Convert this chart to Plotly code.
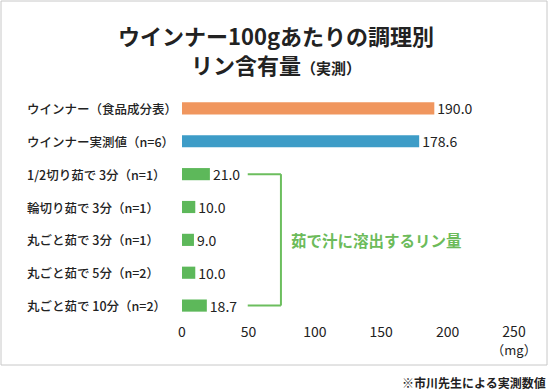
import plotly.graph_objects as go

categories = [
    "ウインナー（食品成分表）",
    "ウインナー実測値（n=6）",
    "1/2切り茹で 3分（n=1）",
    "輪切り茹で 3分（n=1）",
    "丸ごと茹で 3分（n=1）",
    "丸ごと茹で 5分（n=2）",
    "丸ごと茹で 10分（n=2）",
]
values = [190.0, 178.6, 21.0, 10.0, 9.0, 10.0, 18.7]
bar_colors = ["#F0965E", "#3D9CC7", "#5DB85A", "#5DB85A", "#5DB85A", "#5DB85A", "#5DB85A"]
tick_vals = [0, 50, 100, 150, 200, 250]
tick_text = ["0", "50", "100", "150", "200", "250<br><span style='font-size:13px'>（mg）</span>"]

title_line1 = "ウインナー100gあたりの調理別"
title_line2 = "リン含有量"
title_sub = "（実測）"
bracket_text = "茹で汁に溶出するリン量"
footnote = "※市川先生による実測数値"

FONT = "Noto Sans CJK JP"
GREEN_LINE = "#6CBE5E"

W, H = 550, 390
ML, MR, MT, MB = 182, 36, 92, 68
PW = W - ML - MR
PH = H - MT - MB

def px_to_paper_x(px):
    return (px - ML) / PW

def px_to_paper_y(py):
    return (H - MB - py) / PH

fig = go.Figure(
    go.Bar(
        x=values,
        y=categories,
        orientation="h",
        marker=dict(color=bar_colors, line=dict(width=0)),
        text=[f"{v:.1f}" for v in values],
        textposition="outside",
        constraintext="none",
        textfont=dict(size=14, color="#222222", family=FONT),
        cliponaxis=False,
    )
)

annotations = []
for c in categories:
    annotations.append(dict(
        text=c, xref="paper", yref="y", x=px_to_paper_x(25), y=c,
        xanchor="left", yanchor="middle", showarrow=False,
        font=dict(size=12.5, color="#222222", family=FONT, weight=500),
    ))

annotations.append(dict(
    text=f"<b>{title_line1}<br>{title_line2}<span style='font-size:15px'>{title_sub}</span></b>",
    xref="paper", yref="paper", x=px_to_paper_x(276), y=px_to_paper_y(17),
    xanchor="center", yanchor="top", showarrow=False, align="center",
    font=dict(size=22, color="#222222", family=FONT),
))

annotations.append(dict(
    text=f"<b>{bracket_text}</b>", xref="x", yref="y", x=80.5, y=categories[4],
    xanchor="left", yanchor="middle", showarrow=False,
    font=dict(size=15.5, color="#6CBB5A", family=FONT),
))

annotations.append(dict(
    text=f"<b>{footnote}</b>", xref="paper", yref="paper",
    x=px_to_paper_x(548), y=px_to_paper_y(382),
    xanchor="right", yanchor="middle", showarrow=False,
    font=dict(size=12, color="#222222", family=FONT),
))

shapes = [
    dict(type="line", xref="x", yref="y", x0=49.5, x1=74.5, y0=2, y1=2,
         line=dict(color=GREEN_LINE, width=2)),
    dict(type="line", xref="x", yref="y", x0=74.5, x1=74.5, y0=2, y1=6,
         line=dict(color=GREEN_LINE, width=2)),
    dict(type="line", xref="x", yref="y", x0=49.5, x1=74.5, y0=6, y1=6,
         line=dict(color=GREEN_LINE, width=2)),
    dict(type="rect", xref="paper", yref="paper",
         x0=px_to_paper_x(1), x1=px_to_paper_x(547),
         y0=px_to_paper_y(365), y1=px_to_paper_y(1),
         line=dict(color="#C8C8C8", width=1), fillcolor="rgba(0,0,0,0)", layer="below"),
]

fig.update_layout(
    width=W, height=H,
    margin=dict(l=ML, r=MR, t=MT, b=MB),
    paper_bgcolor="white", plot_bgcolor="white",
    showlegend=False,
    bargap=0.63,
    font=dict(family=FONT, color="#222222"),
    xaxis=dict(
        range=[0, 250], tickvals=tick_vals, ticktext=tick_text,
        showgrid=False, zeroline=False, showline=False, ticks="",
        tickfont=dict(size=14, color="#222222", family=FONT),
        fixedrange=True,
    ),
    yaxis=dict(
        categoryorder="array", categoryarray=categories,
        range=[6.5, -0.5], showticklabels=False, showgrid=False,
        zeroline=False, showline=False, ticks="", fixedrange=True,
    ),
    annotations=annotations,
    shapes=shapes,
)

fig.write_html(
    "out.html",
    config={"displayModeBar": False},
    post_script="document.body.style.margin='0';document.body.style.overflow='hidden';",
)
